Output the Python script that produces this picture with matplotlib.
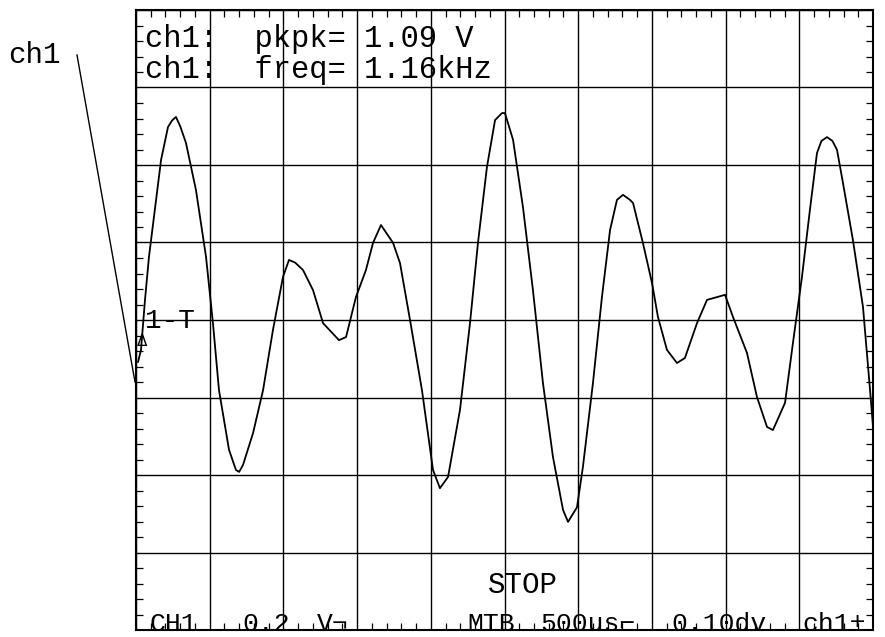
import matplotlib
matplotlib.use('Agg')
import matplotlib.pyplot as plt
from matplotlib.ticker import MultipleLocator, NullFormatter
from matplotlib.lines import Line2D

# scope trace: time in ms, voltage in V
t_ms = [0.014, 0.034, 0.061, 0.088, 0.170, 0.217, 0.245, 0.271, 0.300, 0.339, 0.407, 0.475,
        0.522, 0.563, 0.631, 0.678, 0.700, 0.726, 0.794, 0.862, 0.929, 0.997, 1.038,
        1.080, 1.133, 1.201, 1.269, 1.377, 1.425, 1.492, 1.560, 1.608, 1.662, 1.744,
        1.791, 1.859, 1.940, 2.015, 2.062, 2.117, 2.198, 2.266, 2.320, 2.381,
        2.436, 2.483, 2.503, 2.558, 2.625, 2.693, 2.761, 2.829, 2.897, 2.931,
        2.992, 3.032, 3.100, 3.161, 3.216, 3.263, 3.304, 3.351, 3.372, 3.439,
        3.501, 3.541, 3.602, 3.670, 3.724, 3.806, 3.874, 3.941, 3.996, 4.050,
        4.145, 4.213, 4.281, 4.321, 4.403, 4.457, 4.518, 4.572, 4.620, 4.650, 4.688,
        4.725, 4.756, 4.796, 4.864, 4.932, 4.980, 5.013]
v_volts = [-0.108, -0.077, 0.052, 0.163, 0.413, 0.498, 0.515, 0.524, 0.500, 0.457, 0.335, 0.163,
           -0.008, -0.181, -0.335, -0.387, -0.392, -0.374, -0.292, -0.181, -0.026, 0.111, 0.155,
           0.148, 0.129, 0.077, -0.008, -0.052, -0.044, 0.059, 0.129, 0.199, 0.245, 0.199,
           0.147, 0.000, -0.181, -0.387, -0.434, -0.405, -0.232, -0.008, 0.199, 0.395,
           0.516, 0.534, 0.534, 0.465, 0.292, 0.077, -0.163, -0.354, -0.490, -0.521,
           -0.483, -0.379, -0.163, 0.059, 0.232, 0.310, 0.323, 0.310, 0.302, 0.199,
           0.095, 0.008, -0.077, -0.111, -0.098, -0.008, 0.052, 0.059, 0.065, 0.008,
           -0.085, -0.199, -0.276, -0.284, -0.214, -0.059, 0.111, 0.284, 0.431, 0.462, 0.472,
           0.462, 0.439, 0.354, 0.206, 0.034, -0.181, -0.335]

# screen setup: 10 x 0.5 ms, 8 x 0.2 V
time_per_div = 0.5
volt_per_div = 0.2
n_xdiv = 10
n_ydiv = 8

pkpk_label = "ch1:  pkpk= 1.09 V"
freq_label = "ch1:  freq= 1.16kHz"

mono = 'Liberation Mono'

fig = plt.figure(figsize=(8.85, 6.37), dpi=100)
ax = fig.add_axes([136 / 885, 7 / 637, 737 / 885, 620 / 637])

ax.plot(t_ms, v_volts, color='black', lw=1.3)

ax.set_xlim(0, n_xdiv * time_per_div)
ax.set_ylim(-n_ydiv / 2 * volt_per_div, n_ydiv / 2 * volt_per_div)

ax.xaxis.set_major_locator(MultipleLocator(time_per_div))
ax.xaxis.set_minor_locator(MultipleLocator(time_per_div / 5))
ax.yaxis.set_major_locator(MultipleLocator(volt_per_div))
ax.yaxis.set_minor_locator(MultipleLocator(volt_per_div / 5))
ax.xaxis.set_major_formatter(NullFormatter())
ax.yaxis.set_major_formatter(NullFormatter())
ax.tick_params(which='major', length=0)
ax.tick_params(which='minor', direction='in', length=5, width=0.9,
               top=True, bottom=True, left=True, right=True)
ax.grid(True, which='major', color='black', lw=1.0)
for s in ax.spines.values():
    s.set_linewidth(1.5)

# readouts
ax.text(0.012, 0.940, pkpk_label, transform=ax.transAxes, fontsize=22,
        family=mono, va='baseline', ha='left')
ax.text(0.012, 0.890, freq_label, transform=ax.transAxes, fontsize=22,
        family=mono, va='baseline', ha='left')
ax.text(0.477, 0.060, "STOP", transform=ax.transAxes, fontsize=21,
        family=mono, va='baseline', ha='left')

bottom_row = [("CH1", 0.018), ("0.2", 0.145), ("V¬", 0.246), ("MTB", 0.449),
              ("500us⌐", 0.548), ("0.10dv", 0.727), ("ch1±", 0.904)]
for s, xpos in bottom_row:
    ax.text(xpos, -0.002, s, transform=ax.transAxes, fontsize=19,
            family=[mono, 'DejaVu Sans Mono'], va='baseline', ha='left')

ax.text(0.012, 0.487, "1-T", transform=ax.transAxes, fontsize=20,
        family=mono, va='baseline', ha='left')
ax.text(0.001, 0.458, "Δ", transform=ax.transAxes, fontsize=11,
        family='DejaVu Sans', va='baseline', ha='left')

# channel label with pointer line outside the screen
fig.text(8 / 885, 1 - 63 / 637, "ch1", fontsize=21, family=mono,
         va='baseline', ha='left')
fig.add_artist(Line2D([77 / 885, 135 / 885], [1 - 55 / 637, 1 - 382 / 637],
                      transform=fig.transFigure, color='black', lw=1.0))

fig.savefig('out.png', dpi=100)
